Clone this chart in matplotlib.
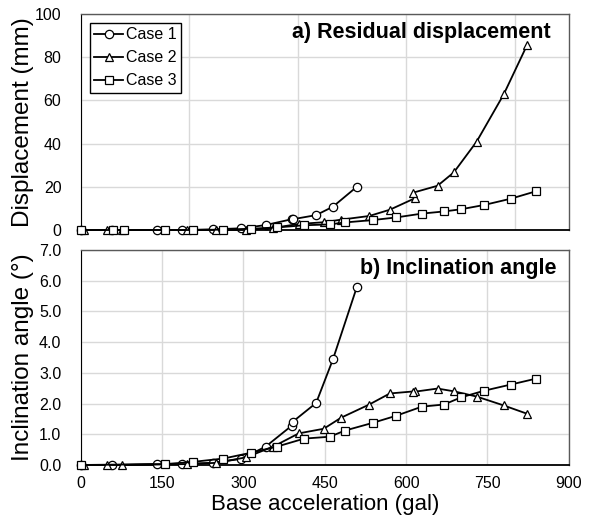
import matplotlib
matplotlib.use("Agg")
import matplotlib.pyplot as plt

plt.rcParams['font.family'] = ['Liberation Sans', 'DejaVu Sans']

# base acceleration (gal) for each case
case1_x = [0, 57, 140, 187, 243, 296, 341, 389, 391, 434, 465, 509]
case2_x = [6, 48, 76, 196, 250, 305, 355, 402, 448, 480, 532, 570, 616, 613, 658, 688, 730, 780, 823]
case3_x_top = [0, 60, 80, 156, 206, 263, 314, 362, 412, 459, 487, 538, 581, 629, 670, 701, 744, 793, 839]
case3_x_bot = [0, 156, 206, 263, 314, 362, 412, 459, 487, 538, 581, 629, 670, 701, 744, 793, 839]

# a) residual displacement (mm)
case1_disp = [0, 0, 0, 0, 0.3, 0.8, 2.3, 5.0, 5.0, 6.9, 10.8, 20.0]
case2_disp = [0, 0, 0, 0, 0, 0, 1.0, 2.8, 3.6, 4.8, 6.5, 9.4, 14.7, 17.3, 20.5, 26.7, 40.9, 62.8, 85.6]
case3_disp = [0, 0, 0, 0, 0, 0.2, 0.6, 1.2, 2.2, 2.6, 3.5, 4.6, 5.8, 7.6, 8.6, 9.6, 11.6, 14.5, 17.9]

# b) inclination angle (deg)
case1_incl = [0, 0, 0.03, 0.03, 0.07, 0.2, 0.6, 1.28, 1.41, 2.02, 3.44, 5.79]
case2_incl = [0, 0, 0, 0.03, 0.07, 0.25, 0.6, 1.03, 1.18, 1.54, 1.97, 2.33, 2.4, 2.38, 2.49, 2.4, 2.23, 1.94, 1.67]
case3_incl = [0, 0.03, 0.1, 0.21, 0.4, 0.6, 0.86, 0.92, 1.12, 1.37, 1.6, 1.9, 1.97, 2.2, 2.42, 2.62, 2.81]

labels = ['Case 1', 'Case 2', 'Case 3']
markers = ['o', '^', 's']

fig = plt.figure(figsize=(5.9, 5.21), dpi=100)
ax1 = fig.add_axes([0.137, 0.5585, 0.827, 0.4145])
ax2 = fig.add_axes([0.137, 0.1075, 0.827, 0.4125])

style = dict(color='black', lw=1.3, markersize=6, markerfacecolor='white',
             markeredgecolor='black', markeredgewidth=0.9)

# top panel
tops = [(case1_x, case1_disp), (case2_x, case2_disp), (case3_x_top, case3_disp)]
for (xs, ys), m, lab in zip(tops, markers, labels):
    ax1.plot(xs, ys, marker=m, label=lab, clip_on=False, zorder=3, **style)

# bottom panel
bots = [(case1_x, case1_incl), (case2_x, case2_incl), (case3_x_bot, case3_incl)]
for (xs, ys), m in zip(bots, markers):
    ax2.plot(xs, ys, marker=m, clip_on=False, zorder=3, **style)

ax1.set_xlim(0, 900)
ax1.set_ylim(0, 100)
ax1.set_xticks(range(0, 901, 200))
ax1.set_yticks(range(0, 101, 20))
ax1.tick_params(axis='x', labelbottom=False)

ax2.set_xlim(0, 900)
ax2.set_ylim(0, 7)
ax2.set_xticks(range(0, 901, 150))
ax2.set_yticks([i * 1.0 for i in range(8)])
ax2.set_yticklabels([f"{i:.1f}" for i in range(8)])

for ax in (ax1, ax2):
    ax.grid(True, color='#d9d9d9', lw=1)
    ax.set_axisbelow(True)
    ax.tick_params(length=0, labelsize=11.5, pad=14)
    ax.tick_params(axis='x', pad=8)
    for s in ('top', 'right'):
        ax.spines[s].set_color('#595959')
        ax.spines[s].set_linewidth(1)
    ax.spines['left'].set_color('black')
    ax.spines['bottom'].set_color('black')
    ax.spines['bottom'].set_linewidth(1.3)

# y labels: anchor is the right side of the rotated text
ax1.set_ylabel('Displacement (mm)', fontsize=17.5)
ax2.set_ylabel('Inclination angle (°)', fontsize=17.5)
ax1.yaxis.set_label_coords(-0.097, 0.5)
ax2.yaxis.set_label_coords(-0.097, 0.5)
ax2.set_xlabel('Base acceleration (gal)', fontsize=16, labelpad=2)

ax1.text(0.962, 0.965, 'a) Residual displacement', transform=ax1.transAxes,
         ha='right', va='top', fontsize=15.5, fontweight='bold')
ax2.text(0.975, 0.965, 'b) Inclination angle', transform=ax2.transAxes,
         ha='right', va='top', fontsize=15.5, fontweight='bold')

leg = ax1.legend(loc='upper left', bbox_to_anchor=(0.018, 0.96), fontsize=11.5,
                 handlelength=1.8, handletextpad=0.15, borderpad=0.3,
                 labelspacing=0.5, fancybox=False, framealpha=1, borderaxespad=0)
leg.get_frame().set_edgecolor('black')
leg.get_frame().set_linewidth(1)

fig.savefig('out.png', dpi=100)
